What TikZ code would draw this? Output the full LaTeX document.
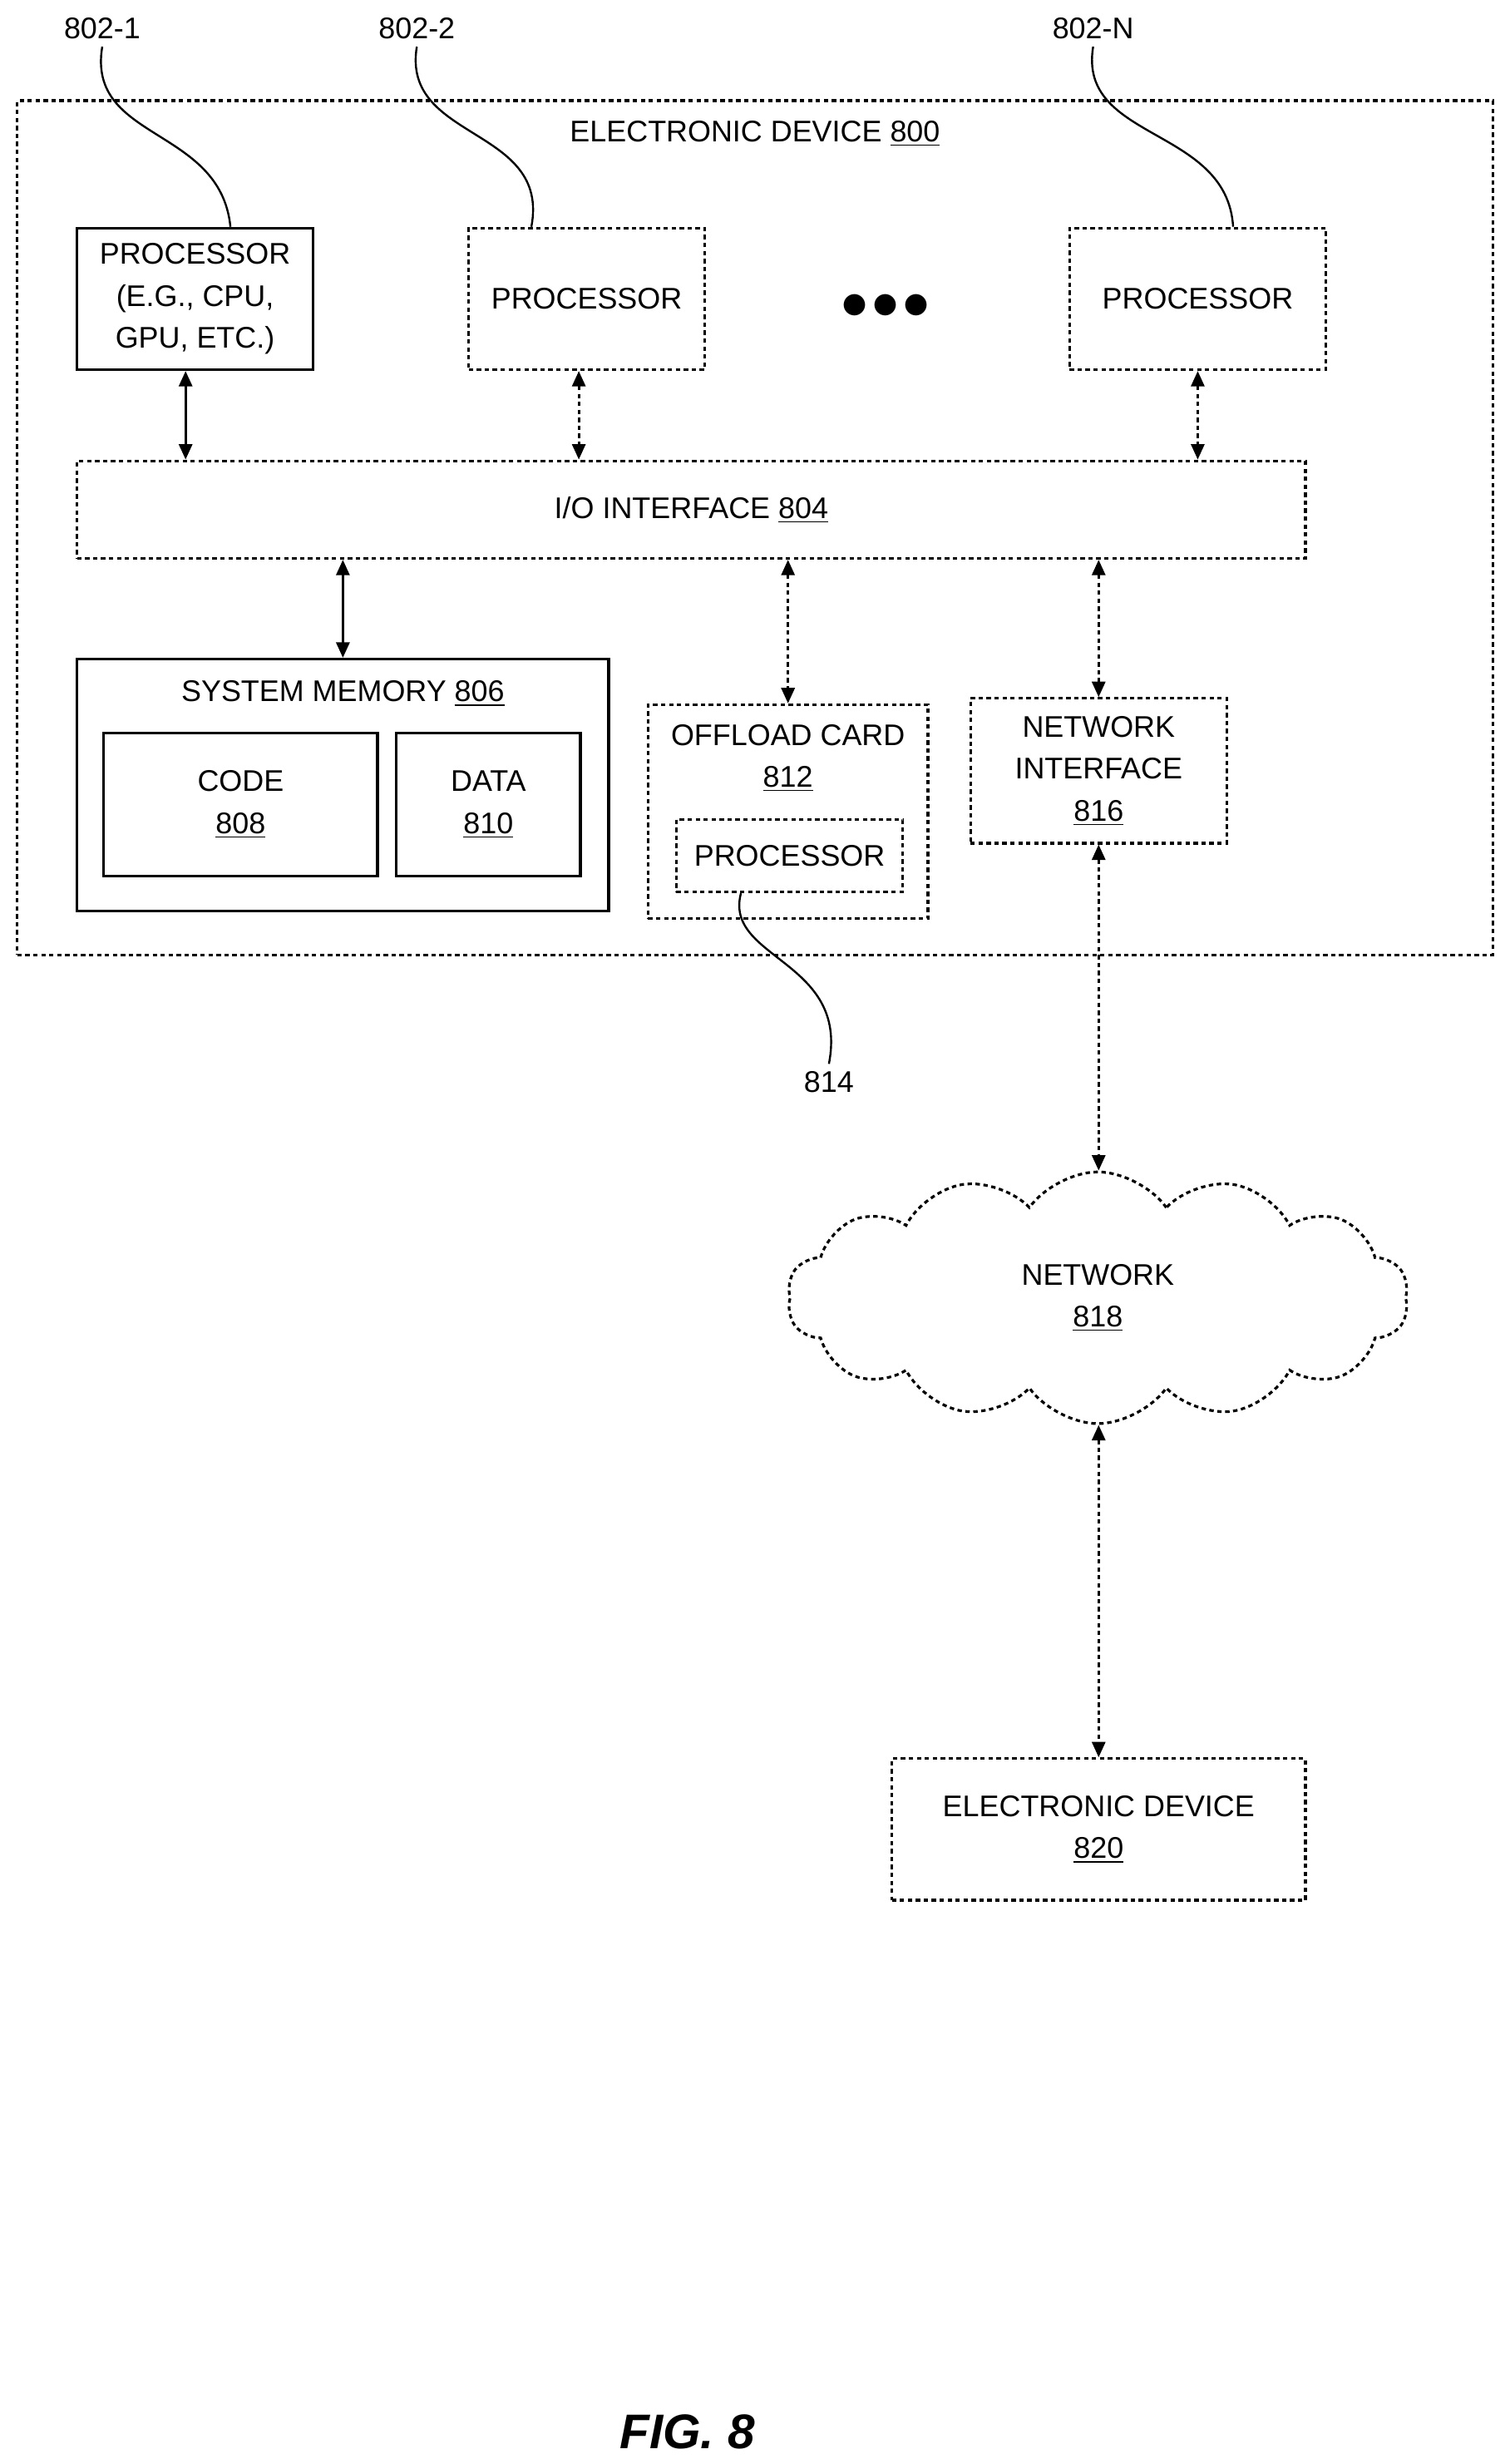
\documentclass[tikz,border=0pt]{standalone}
\usepackage{fontspec}
\setmainfont{Liberation Sans}
\usetikzlibrary{arrows.meta,shapes.symbols}
\begin{document}
\begin{tikzpicture}[
  x=0.025cm, y=-0.025cm,
  every node/.style={font=\fontsize{13.5}{19}\selectfont, align=center},
  box/.style={rectangle, draw, line width=1.2pt, inner sep=0pt},
  dbox/.style={box, dash pattern=on 2pt off 1.6pt},
  link/.style={{Triangle[length=7pt,width=6pt]}-{Triangle[length=7pt,width=6pt]}, line width=1.2pt},
  dlink/.style={link, dash pattern=on 2pt off 1.6pt},
  lead/.style={line width=0.9pt}
]
\useasboundingbox (0,0) rectangle (960,1566.4);

% Outer device
\node[dbox, minimum width=938*0.025cm, minimum height=543*0.025cm] (dev) at (480,335.5) {};
\node (devlabel) at (480,85) {ELECTRONIC DEVICE \underline{800}};

% Processors
\node[box, minimum width=150*0.025cm, minimum height=90*0.025cm] (p1) at (124,190) {PROCESSOR\\(E.G., CPU,\\GPU, ETC.)};
\node[dbox, minimum width=150*0.025cm, minimum height=90*0.025cm] (p2) at (373,190) {PROCESSOR};
\node[font=\fontsize{30}{30}\selectfont] (dots) at (563,195) {$\bullet\!\bullet\!\bullet$};
\node[dbox, minimum width=163*0.025cm, minimum height=90*0.025cm] (pn) at (761.5,190) {PROCESSOR};

% I/O interface
\node[dbox, minimum width=781*0.025cm, minimum height=62*0.025cm] (io) at (439.5,324) {I/O INTERFACE \underline{804}};

% System memory
\node[box, minimum width=338*0.025cm, minimum height=160*0.025cm] (mem) at (218,499) {};
\node (memlabel) at (218,441) {SYSTEM MEMORY \underline{806}};
\node[box, minimum width=174*0.025cm, minimum height=91*0.025cm] (code) at (153,511.5) {CODE\\\underline{808}};
\node[box, minimum width=117*0.025cm, minimum height=91*0.025cm] (data) at (310.5,511.5) {DATA\\\underline{810}};

% Offload card
\node[dbox, minimum width=178*0.025cm, minimum height=136*0.025cm] (off) at (501,516) {};
\node (offlabel) at (501,482) {OFFLOAD CARD\\\underline{812}};
\node[dbox, minimum width=144*0.025cm, minimum height=46*0.025cm] (offp) at (502,544) {PROCESSOR};

% Network interface
\node[dbox, minimum width=163*0.025cm, minimum height=92*0.025cm] (nic) at (698.5,490) {NETWORK\\INTERFACE\\\underline{816}};

% Network and remote device
\node[cloud, draw, line width=1.2pt, dash pattern=on 2pt off 1.6pt, cloud puffs=14, cloud puff arc=110, minimum width=395*0.025cm, minimum height=160*0.025cm, aspect=2.5] (net) at (698,825) {NETWORK\\\underline{818}};
\node[dbox, minimum width=263*0.025cm, minimum height=90*0.025cm] (ed) at (698.5,1163) {ELECTRONIC DEVICE\\\underline{820}};

% Arrows
\draw[link] (p1.south) ++(-6,0) coordinate (a1) -- (a1 |- io.north);
\draw[dlink] (p2.south) ++(-5,0) coordinate (a2) -- (a2 |- io.north);
\draw[dlink] (pn.south) -- (pn.south |- io.north);
\draw[link] (io.south -| mem.north) -- (mem.north);
\draw[dlink] (io.south -| off.north) -- (off.north);
\draw[dlink] (io.south -| nic.north) -- (nic.north);
\draw[dlink] (nic.south) -- (net.north -| nic.south);
\draw[dlink] (net.south -| ed.north) -- (ed.north);

% Reference labels
\node (r1) at (65,18) {802-1};
\node (r2) at (265,18) {802-2};
\node (rn) at (695,18) {802-N};
\node (r814) at (527,688) {814};
\draw[lead] (r1.south) .. controls (55,90) and (140,80) .. ([xshift=16]p1.north);
\draw[lead] (r2.south) .. controls (255,90) and (350,80) .. ([xshift=-25]p2.north);
\draw[lead] (rn.south) .. controls (685,90) and (780,80) .. ([xshift=16]pn.north);
\draw[lead] ([xshift=-22]offp.south) .. controls (460,610) and (540,610) .. (r814.north);

% Figure caption
\node[font=\fontsize{22}{24}\selectfont\bfseries\itshape] (fig) at (437,1546) {FIG. 8};
\end{tikzpicture}
\end{document}
